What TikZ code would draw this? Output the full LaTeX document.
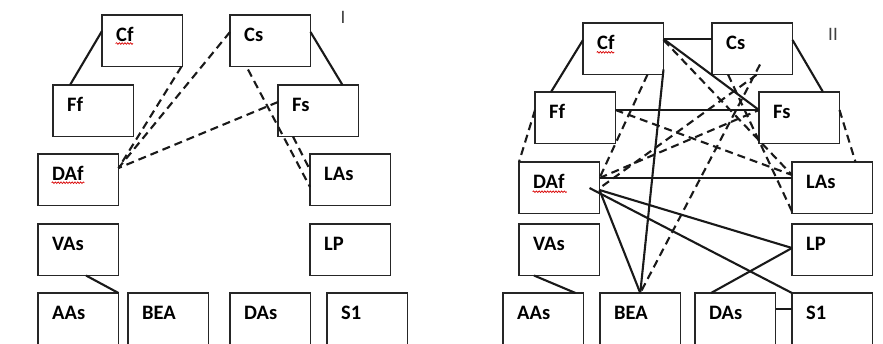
\documentclass[tikz,border=0pt]{standalone}
\usepackage{fontspec}
\setmainfont{Carlito}
\usetikzlibrary{decorations.pathmorphing}
\begin{document}
\begin{tikzpicture}[x=1pt,y=-1pt,
  box/.style={draw=black!85, line width=1.4pt, minimum width=80.5pt, minimum height=51.5pt, anchor=north west, inner sep=0pt, outer sep=0pt},
  lab/.style={label={[anchor=base west, inner sep=0pt, font=\fontsize{20.5}{24}\selectfont\bfseries, shift={(14pt,-26pt)}]north west:#1}},
  numlab/.style={font=\fontsize{19}{22}\selectfont, text=black!75, inner sep=0pt},
  conn/.style={line width=2.1pt, draw=black!90},
  dashln/.style={conn, dash pattern=on 8pt off 5pt},
  spell/.style={draw=red!85!black, line width=0.7pt, decorate, decoration={snake, amplitude=0.8pt, segment length=2.8pt}}
]
\clip (0,0) rectangle (883,343);
\fill[white] (0,0) rectangle (883,343);

% ---------- Panel I ----------
\node[box,lab=Cf]  (Cf1)  at (102,15)  {};
\node[box,lab=Cs]  (Cs1)  at (230,15)  {};
\node[box,lab=Ff]  (Ff1)  at (53,85)   {};
\node[box,lab=Fs]  (Fs1)  at (278,85)  {};
\node[box,lab=DAf] (DAf1) at (38,154)  {};
\node[box,lab=LAs] (LAs1) at (310,154) {};
\node[box,lab=VAs] (VAs1) at (38,224)  {};
\node[box,lab=LP]  (LP1)  at (310,224) {};
\node[box,lab=AAs] (AAs1) at (38,293)  {};
\node[box,lab=BEA] (BEA1) at (128,293) {};
\node[box,lab=DAs] (DAs1) at (230,293) {};
\node[box,lab=S1]  (S11)  at (327,293) {};
\node[numlab] (n1) at (343,17) {I};

\draw[spell] ([shift={(13.7,28.5)}]Cf1.north west) -- ++(17.5,0);
\draw[spell] ([shift={(13.7,28.7)}]DAf1.north west) -- ++(32.6,0);

\draw[conn] ([shift={(0,16)}]Cf1.north west) -- ([shift={(17,0)}]Ff1.north west);
\draw[conn] ([shift={(0,17)}]Cs1.north east) -- ([shift={(-16,0)}]Fs1.north east);
\draw[conn] ([shift={(48,0)}]VAs1.south west) -- (AAs1.north east);
\draw[dashln] ([shift={(-1,0)}]Cf1.south east) -- ([shift={(0,14)}]DAf1.north east);
\draw[dashln] ([shift={(0,17)}]Cs1.north west) -- ([shift={(0,14)}]DAf1.north east);
\draw[dashln] ([shift={(0,17)}]Fs1.north west) -- ([shift={(0,14)}]DAf1.north east);
\draw[dashln] ([shift={(18,3)}]Cs1.south west) -- ([shift={(0,33)}]LAs1.north west);
\draw[dashln] ([shift={(15,0)}]Fs1.south west) -- ([shift={(0,16)}]LAs1.north west);

% ---------- Panel II ----------
\node[box,lab=Cf]  (Cf2)  at (583,23)  {};
\node[box,lab=Cs]  (Cs2)  at (712,23)  {};
\node[box,lab=Ff]  (Ff2)  at (535,92)  {};
\node[box,lab=Fs]  (Fs2)  at (759,92)  {};
\node[box,lab=DAf] (DAf2) at (519,162) {};
\node[box,lab=LAs] (LAs2) at (792,162) {};
\node[box,lab=VAs] (VAs2) at (519,224) {};
\node[box,lab=LP]  (LP2)  at (792,224) {};
\node[box,lab=AAs] (AAs2) at (503,293) {};
\node[box,lab=BEA] (BEA2) at (600,293) {};
\node[box,lab=DAs] (DAs2) at (695,293) {};
\node[box,lab=S1]  (S12)  at (792,293) {};
\node[numlab] (n2) at (833,34) {II};

\draw[spell] ([shift={(13.7,29.3)}]Cf2.north west) -- ++(17.6,0);
\draw[spell] ([shift={(13.7,29.7)}]DAf2.north west) -- ++(34,0);

% solid
\draw[conn] ([shift={(0,17)}]Cf2.north west) -- ([shift={(16,0)}]Ff2.north west);
\draw[conn] ([shift={(0,17)}]Cs2.north east) -- ([shift={(-16.5,0)}]Fs2.north east);
\draw[conn] ([shift={(0,16)}]Cf2.north east) -- ([shift={(0,16)}]Cs2.north west);
\draw[conn] ([shift={(0,16)}]Cf2.north east) -- ([shift={(0,18)}]Fs2.north west);
\draw[conn] ([shift={(0,18)}]Ff2.north east) -- ([shift={(0,18)}]Fs2.north west);
\draw[conn] ([shift={(0,16)}]DAf2.north east) -- ([shift={(0,16)}]LAs2.north west);
\draw[conn] ([shift={(0,-5)}]Cf2.south east) -- (BEA2.north);
\draw[conn] ([shift={(0,28)}]DAf2.north east) -- (BEA2.north);
\draw[conn] ([shift={(0,28)}]DAf2.north east) -- ([shift={(0,24)}]LP2.north west);
\draw[conn] ([shift={(-10,26)}]DAf2.north east) -- (S12.north west);
\draw[conn] ([shift={(0,24)}]LP2.north west) -- ([shift={(16,0)}]DAs2.north west);
\draw[conn] ([shift={(0,16)}]DAs2.north east) -- ([shift={(0,16)}]S12.north west);
\draw[conn] ([shift={(15,0)}]VAs2.south west) -- ([shift={(-8,0)}]AAs2.north east);

% dashed
\draw[dashln] ([shift={(0,18)}]Ff2.north west) -- (DAf2.north west);
\draw[dashln] ([shift={(0,18)}]Fs2.north east) -- ([shift={(-17,0)}]LAs2.north east);
\draw[dashln] ([shift={(-16,0)}]Cf2.south east) -- ([shift={(0,16)}]DAf2.north east);
\draw[dashln] ([shift={(48,-10)}]Cs2.south west) -- (BEA2.north);
\draw[dashln] ([shift={(16,0)}]Cs2.south west) -- ([shift={(0,-2)}]LAs2.south west);
\draw[dashln] ([shift={(0,17)}]Cf2.north east) -- ([shift={(0,13)}]LAs2.north west);
\draw[dashln] ([shift={(0,18)}]Ff2.north east) -- ([shift={(0,13)}]LAs2.north west);
\draw[dashln] ([shift={(0,16)}]DAf2.north east) -- ([shift={(0,18)}]Fs2.north west);
\draw[dashln] ([shift={(3,24)}]DAf2.north east) -- ([shift={(45,0)}]Cs2.south west);
\end{tikzpicture}
\end{document}
